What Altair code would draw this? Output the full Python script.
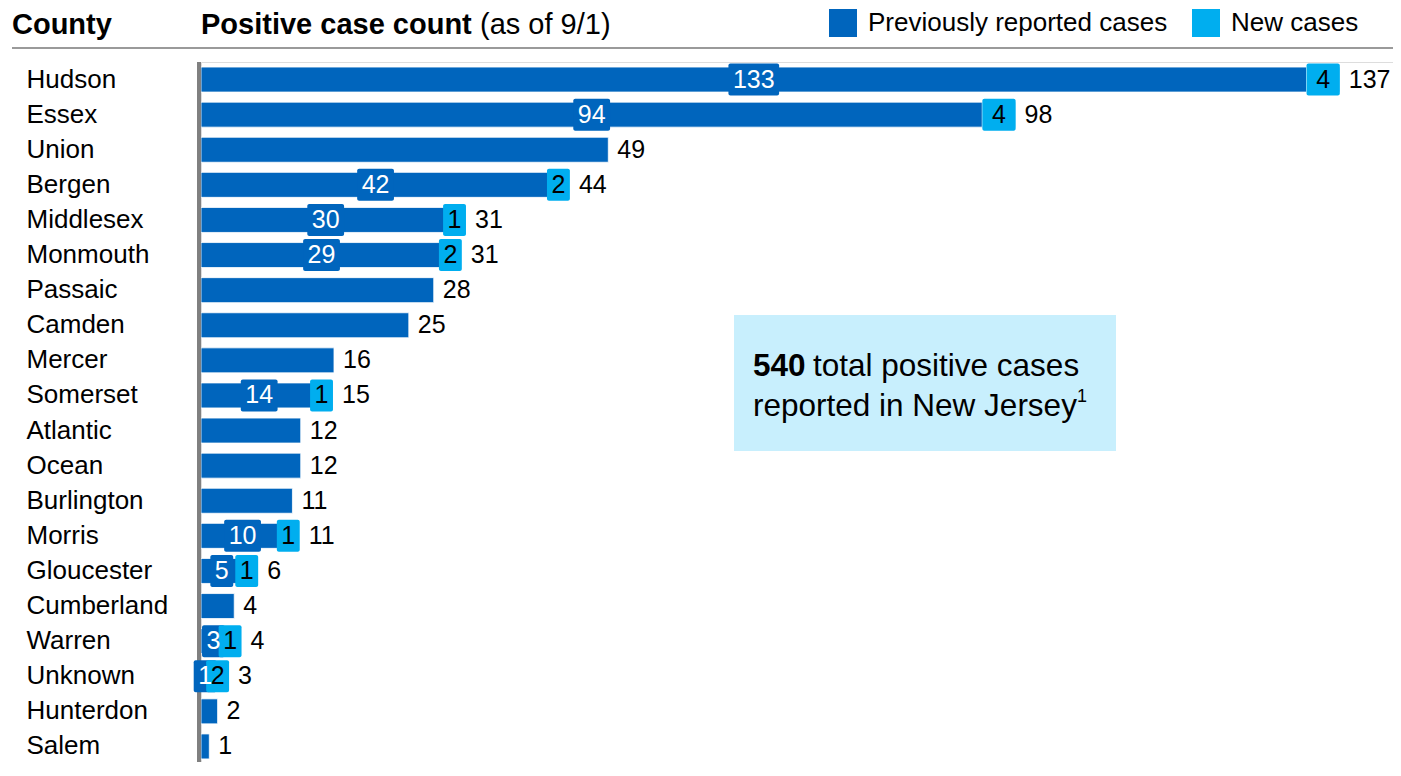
import altair as alt
import pandas as pd

# ---------------- data ----------------
counties = ["Hudson", "Essex", "Union", "Bergen", "Middlesex", "Monmouth", "Passaic",
            "Camden", "Mercer", "Somerset", "Atlantic", "Ocean", "Burlington", "Morris",
            "Gloucester", "Cumberland", "Warren", "Unknown", "Hunterdon", "Salem"]
previous = [133, 94, 49, 42, 30, 29, 28, 25, 16, 14, 12, 12, 11, 10, 5, 4, 3, 1, 2, 1]
new_cases = [4, 4, 0, 2, 1, 2, 0, 0, 0, 1, 0, 0, 0, 1, 1, 0, 1, 2, 0, 0]
series_names = ["Previously reported cases", "New cases"]
state_total = "540"

# ---------------- style ----------------
FONT = "Liberation Sans"
DARK = "#0065BD"
LIGHT = "#00AEEF"
W, H = 1192, 700
YRANGE = 702
XMAX = 143.4
K = W / XMAX           # pixels per case
FS_VAL = 25


def half_px(v):
    return (len(str(v)) * 0.556 * FS_VAL + 9) / 2


# ---------------- derived tables ----------------
seg_rows, lab_rows, tot_rows = [], [], []
for c, p, n in zip(counties, previous, new_cases):
    seg_rows.append({"county": c, "series": series_names[0], "start": 0, "end": p})
    total = p + n
    xt = total
    if n > 0:
        seg_rows.append({"county": c, "series": series_names[1], "start": p, "end": total})
        pc = p / 2
        phw = half_px(p) / K
        nc = p + n / 2
        nhw = max(half_px(n), n * K / 2) / K
        lab_rows.append({"county": c, "pv": p, "nv": n,
                         "pc": pc, "plo": pc - phw, "phi": pc + phw,
                         "nc": nc, "nlo": nc - nhw, "nhi": nc + nhw})
        xt = max(total, nc + nhw)
    tot_rows.append({"county": c, "total": total, "xt": xt})

seg = pd.DataFrame(seg_rows)
lab = pd.DataFrame(lab_rows)
tot = pd.DataFrame(tot_rows)
one = pd.DataFrame({"a": [0]})

xsc = alt.Scale(domain=[0, XMAX], nice=False, zero=True)
ysc = alt.Scale(domain=counties, range=[0, YRANGE], paddingInner=0, paddingOuter=0)
Y_AX = alt.Y("county:N", scale=ysc, sort=counties, title=None,
             axis=alt.Axis(domain=False, ticks=False, tickSize=0, labelAlign="left",
                           labelPadding=175, labelFontSize=26, labelFont=FONT,
                           labelColor="black", grid=False, labelBaseline="middle"))

bars = alt.Chart(seg).mark_bar(size=25, stroke="white", strokeWidth=0.8).encode(
    x=alt.X("start:Q", scale=xsc, axis=None),
    x2="end:Q",
    y=Y_AX,
    color=alt.Color("series:N",
                    scale=alt.Scale(domain=series_names, range=[DARK, LIGHT]),
                    sort=series_names,
                    legend=alt.Legend(title=None, orient="none", legendX=628, legendY=-53,
                                      direction="horizontal", symbolType="square",
                                      symbolSize=784, symbolStrokeWidth=0,
                                      labelFontSize=26, labelFont=FONT, labelColor="black",
                                      labelOffset=11, columnPadding=24, padding=0,
                                      labelLimit=500, symbolOpacity=1)),
)

axis_line = alt.Chart(one).mark_rule(color="#808080", strokeWidth=4).encode(
    x=alt.value(-2), y=alt.value(0), y2=alt.value(H + 20))

pbox = alt.Chart(lab).mark_bar(size=32, color=DARK, cornerRadius=2).encode(
    x=alt.X("plo:Q", scale=xsc, axis=None), x2="phi:Q", y=Y_AX)
nbox = alt.Chart(lab).mark_bar(size=32, color=LIGHT, cornerRadius=2).encode(
    x=alt.X("nlo:Q", scale=xsc, axis=None), x2="nhi:Q", y=Y_AX)
ptxt = alt.Chart(lab).mark_text(color="white", fontSize=FS_VAL, font=FONT).encode(
    x=alt.X("pc:Q", scale=xsc, axis=None), y=Y_AX, text="pv:Q")
ntxt = alt.Chart(lab).mark_text(color="black", fontSize=FS_VAL, font=FONT).encode(
    x=alt.X("nc:Q", scale=xsc, axis=None), y=Y_AX, text="nv:Q")
ttxt = alt.Chart(tot).mark_text(color="black", fontSize=FS_VAL, font=FONT,
                                align="left", dx=9).encode(
    x=alt.X("xt:Q", scale=xsc, axis=None), y=Y_AX, text="total:Q")


def txt(s, x, y, size, weight="normal", baseline="alphabetic", color="black"):
    return alt.Chart(one).mark_text(fontSize=size, fontWeight=weight, font=FONT,
                                    align="left", baseline=baseline, color=color).encode(
        x=alt.value(x), y=alt.value(y), text=alt.value(s))


hdr_county = txt("County", -189, -28, 29, "bold")
hdr_pos = txt("Positive case count", 0, -28, 29, "bold")
hdr_asof = txt("(as of 9/1)", 279, -28, 29)
hdr_rule = alt.Chart(one).mark_rule(color="#9a9a9a", strokeWidth=2).encode(
    x=alt.value(-189), x2=alt.value(W), y=alt.value(-14))

callout = alt.Chart(one).mark_rect(color="#C8EFFD").encode(
    x=alt.value(533), x2=alt.value(915), y=alt.value(253), y2=alt.value(389))
c1 = txt(state_total, 552, 314, 31.5, "bold")
c2 = txt("total positive cases", 612, 314, 31.5)
c3 = txt("reported in New Jersey", 552, 354, 31.5)
c4 = txt("1", 876, 340, 18)

chart = alt.layer(
    bars, axis_line, pbox, nbox, ptxt, ntxt, ttxt,
    hdr_county, hdr_pos, hdr_asof, hdr_rule,
    callout, c1, c2, c3, c4,
).properties(
    width=W, height=H,
    padding={"left": 193, "top": 54, "right": 0, "bottom": 0},
    autosize=alt.AutoSizeParams(type="none"),
).configure_view(stroke=None).configure(font=FONT)

chart.save("out.html", embed_options={"renderer": "svg", "actions": False})
